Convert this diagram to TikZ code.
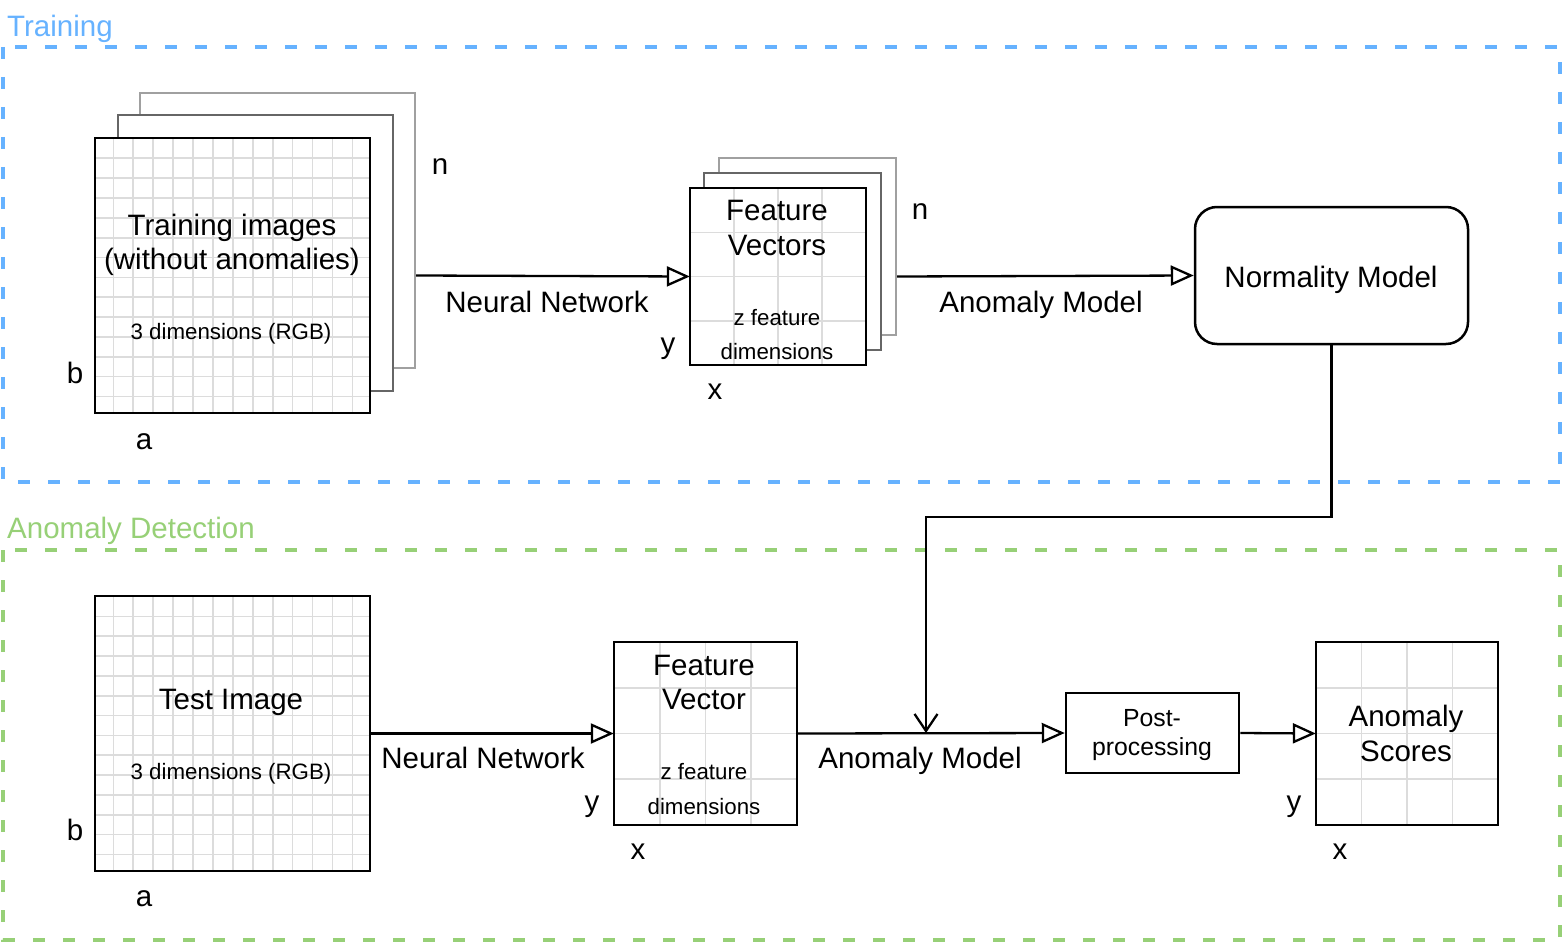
\documentclass[tikz,border=0pt]{standalone}
\usepackage{fontspec}
\setmainfont{Liberation Sans}
\usetikzlibrary{arrows.meta}
\definecolor{trblue}{HTML}{66B2FF}
\definecolor{adgreen}{HTML}{97D077}
\definecolor{gridc}{HTML}{DCDCDC}
\definecolor{backg}{HTML}{A0A0A0}
\definecolor{midg}{HTML}{666666}
\begin{document}
\begin{tikzpicture}[x=1pt,y=-1pt,
  region/.style={line width=4pt, dash pattern=on 12pt off 18pt},
  regionlabel/.style={font=\fontsize{29.5}{34}\selectfont, inner sep=0pt, text height=21.1pt, text depth=0pt, anchor=west},
  stackback/.style={draw=backg, line width=2pt, fill=white, inner sep=0pt},
  stackmid/.style={draw=midg, line width=2.2pt, fill=white, inner sep=0pt},
  plainbox/.style={fill=white, inner sep=0pt},
  border/.style={draw=black, line width=2.5pt},
  gridline/.style={draw=gridc, line width=1.6pt},
  big/.style={font=\fontsize{29.5}{34}\selectfont, inner sep=0pt, text height=21.1pt, text depth=0pt},
  mid/.style={font=\fontsize{24.8}{28}\selectfont, inner sep=0pt, text height=17.8pt, text depth=0pt},
  small/.style={font=\fontsize{22.3}{26}\selectfont, inner sep=0pt, text height=16pt, text depth=0pt},
  letter/.style={font=\fontsize{29.5}{34}\selectfont, inner sep=0pt, text height=15.3pt, text depth=0pt},
  flow/.style={line width=2.3pt, -{Triangle[fill=white, length=23pt, width=20pt]}},
  joinline/.style={line width=2.3pt, -{Straight Barb[length=17pt, width=23pt]}}
]
\useasboundingbox (0,0) rectangle (1562,944);

% regions
\draw[region, draw=trblue] (3,47) rectangle (1560,482);
\node[regionlabel, text=trblue] (trlabel) at (7,26) {Training};
\draw[region, draw=adgreen] (3,550) rectangle (1560,940);
\node[regionlabel, text=adgreen] (adlabel) at (7,528) {Anomaly Detection};

% ---------- Training images stack ----------
\node[stackback, minimum width=275pt, minimum height=275pt] (trback) at (277.5,230.5) {};
\node[stackmid, minimum width=275pt, minimum height=276pt] (trmid) at (255.5,253) {};
\node[plainbox, minimum width=275pt, minimum height=275pt] (trfront) at (232.5,275.5) {};
\begin{scope}
  \clip (trfront.south west) rectangle (trfront.north east);
  \foreach \i in {0,...,12} \draw[gridline] (113.3+\i*19.93,138) -- (113.3+\i*19.93,413);
  \foreach \j in {0,...,12} \draw[gridline] (95,158.3+\j*19.85) -- (370,158.3+\j*19.85);
\end{scope}
\draw[border] (trfront.south west) rectangle (trfront.north east);
\node[big] (tr1) at (232,225) {Training images};
\node[big] (tr2) at (232,259) {(without anomalies)};
\node[small] (tr3) at (231,331) {3 dimensions (RGB)};
\node[letter] (trn) at (440,167) {n};
\node[letter] (trb) at (75,376) {b};
\node[letter] (tra) at (144,442) {a};

% ---------- Feature vectors stack ----------
\node[stackback, minimum width=177pt, minimum height=177pt] (fvback) at (807.5,246.5) {};
\node[stackmid, minimum width=177pt, minimum height=177pt] (fvmid) at (792.5,261.5) {};
\node[plainbox, minimum width=176pt, minimum height=177pt] (fvfront) at (778,276.5) {};
\begin{scope}
  \clip (fvfront.south west) rectangle (fvfront.north east);
  \foreach \i in {1,2,3} \draw[gridline] (690+\i*44,188) -- (690+\i*44,365);
  \foreach \j in {1,2,3} \draw[gridline] (690,188+\j*44.3) -- (866,188+\j*44.3);
\end{scope}
\draw[border] (fvfront.south west) rectangle (fvfront.north east);
\node[big] (fv1) at (777,210) {Feature};
\node[big] (fv2) at (777,245) {Vectors};
\node[small] (fv3) at (777,317) {z feature};
\node[small] (fv4) at (777,351) {dimensions};
\node[letter] (fvn) at (920,212) {n};
\node[letter] (fvy) at (668,346) {y};
\node[letter] (fvx) at (715,392) {x};

% ---------- Normality model ----------
\node[draw=black, line width=2.5pt, rounded corners=22pt, minimum width=273pt, minimum height=137pt, inner sep=0pt] (norm) at (1331.5,275.5) {};
\node[big] (normtext) at (1331,277) {Normality Model};

% training connectors
\draw[flow] (trfront.east -| trback.east) -- (fvfront.west);
\node[big] (nn1) at (547,302) {Neural Network};
\draw[flow] (fvfront.east -| fvback.east) -- (norm.west);
\node[big] (am1) at (1041,302) {Anomaly Model};

% ---------- Anomaly detection ----------
\node[plainbox, minimum width=275pt, minimum height=275pt] (test) at (232.5,733.5) {};
\begin{scope}
  \clip (test.south west) rectangle (test.north east);
  \foreach \i in {0,...,12} \draw[gridline] (113.3+\i*19.93,596) -- (113.3+\i*19.93,871);
  \foreach \j in {0,...,12} \draw[gridline] (95,616.3+\j*19.85) -- (370,616.3+\j*19.85);
\end{scope}
\draw[border] (test.south west) rectangle (test.north east);
\node[big] (te1) at (231,699) {Test Image};
\node[small] (te2) at (231,771) {3 dimensions (RGB)};
\node[letter] (teb) at (75,833) {b};
\node[letter] (tea) at (144,899) {a};

\node[plainbox, minimum width=183pt, minimum height=183pt] (fv) at (705.5,733.5) {};
\begin{scope}
  \clip (fv.south west) rectangle (fv.north east);
  \foreach \i in {1,2,3} \draw[gridline] (614+\i*45.75,642) -- (614+\i*45.75,825);
  \foreach \j in {1,2,3} \draw[gridline] (614,642+\j*45.75) -- (797,642+\j*45.75);
\end{scope}
\draw[border] (fv.south west) rectangle (fv.north east);
\node[big] (f1) at (704,665) {Feature};
\node[big] (f2) at (704,699) {Vector};
\node[small] (f3) at (704,771) {z feature};
\node[small] (f4) at (704,806) {dimensions};
\node[letter] (fy) at (592,804) {y};
\node[letter] (fx) at (638,852) {x};

\node[draw=black, line width=2.5pt, fill=white, minimum width=173pt, minimum height=80pt, inner sep=0pt] (post) at (1152.5,733) {};
\node[mid] (p1) at (1152,718) {Post-};
\node[mid] (p2) at (1152,747) {processing};

\node[plainbox, minimum width=182pt, minimum height=183pt] (score) at (1407,733.5) {};
\begin{scope}
  \clip (score.south west) rectangle (score.north east);
  \foreach \i in {1,2,3} \draw[gridline] (1316+\i*45.5,642) -- (1316+\i*45.5,825);
  \foreach \j in {1,2,3} \draw[gridline] (1316,642+\j*45.75) -- (1498,642+\j*45.75);
\end{scope}
\draw[border] (score.south west) rectangle (score.north east);
\node[big] (s1) at (1406,716) {Anomaly};
\node[big] (s2) at (1406,751) {Scores};
\node[letter] (sy) at (1294,804) {y};
\node[letter] (sx) at (1340,852) {x};

% detection connectors
\draw[flow] (test.east) -- (fv.west);
\node[big] (nn2) at (483,758) {Neural Network};
\draw[flow] (fv.east) -- (post.west);
\node[big] (am2) at (920,758) {Anomaly Model};
\draw[flow] (post.east) -- (score.west);

\coordinate (bend) at (926,517);
\coordinate (joinpt) at (926,733);
\draw[joinline] (norm.south) |- (bend) -- (joinpt);
\end{tikzpicture}
\end{document}
